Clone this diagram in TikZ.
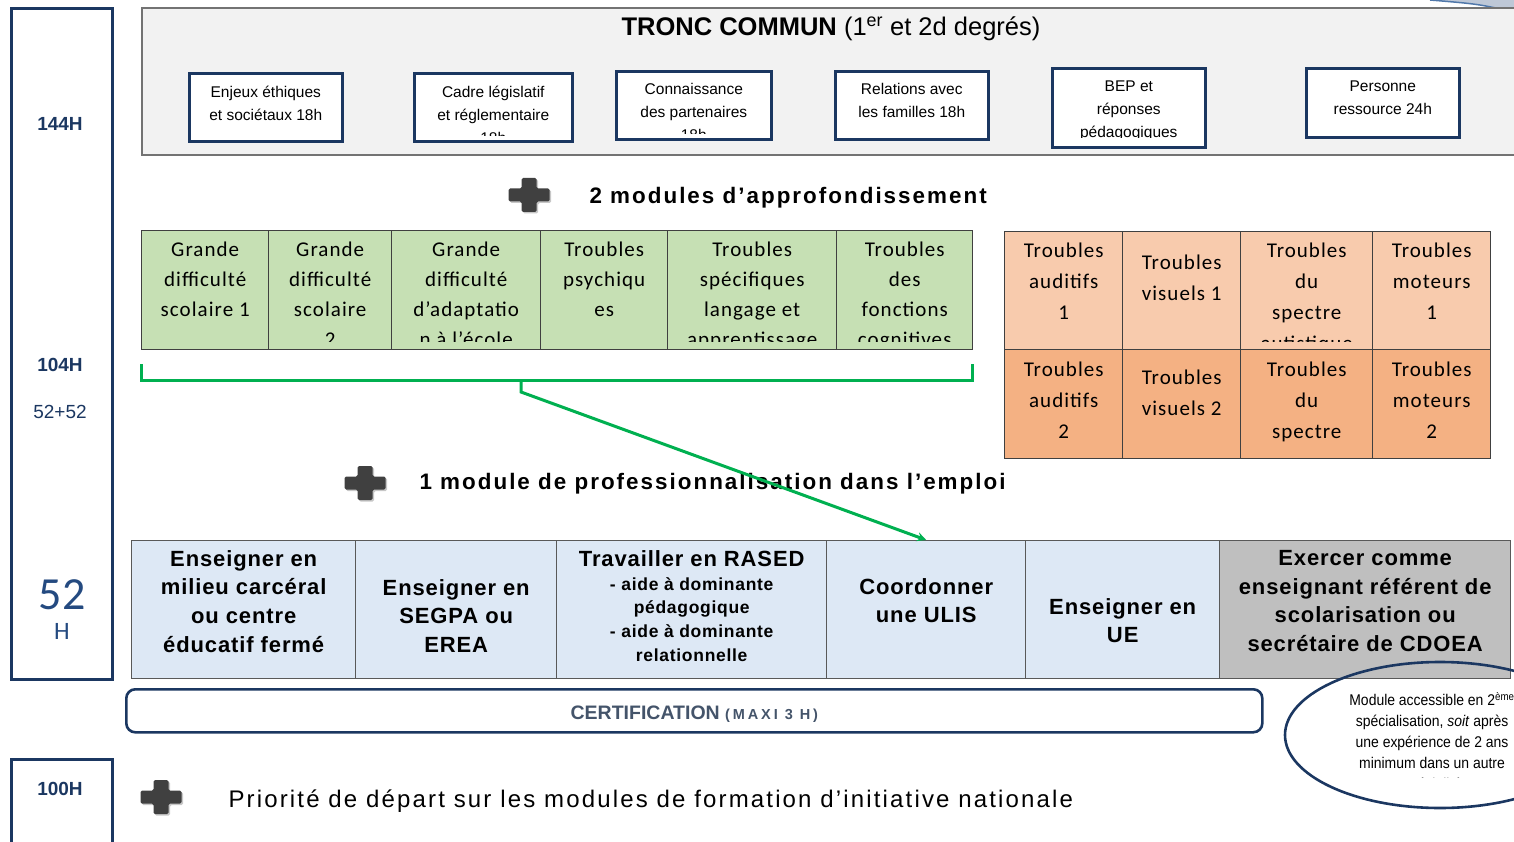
\documentclass[tikz,border=0pt]{standalone}
\usepackage{fontspec}
\setmainfont{Liberation Sans}
\newfontfamily\calibfont[LetterSpace=5]{Carlito}
\newfontfamily\calibplain{Carlito}
\newfontfamily\narrowfont[FakeStretch=0.9]{Liberation Sans}
\newfontfamily\widefont[LetterSpace=4]{Liberation Sans}
\newfontfamily\spacedfont[LetterSpace=9]{Liberation Sans}
\newfontfamily\capsfont[LetterSpace=20]{Liberation Sans}
\usepackage{tikz}
\usetikzlibrary{arrows,positioning,shapes.geometric}
\usetikzlibrary{calc}

\definecolor{navy}{RGB}{27,55,97}
\definecolor{steel}{RGB}{36,74,128}
\definecolor{troncgrey}{RGB}{242,242,242}
\definecolor{vert}{RGB}{198,224,180}
\definecolor{orangeA}{RGB}{248,203,173}
\definecolor{orangeB}{RGB}{244,177,131}
\definecolor{bleu}{RGB}{221,232,245}
\definecolor{gris}{RGB}{191,191,191}
\definecolor{plusgrey}{RGB}{64,64,64}
\definecolor{arrowgreen}{RGB}{0,176,80}
\definecolor{certif}{RGB}{68,84,106}
\definecolor{cornerfill}{RGB}{190,200,215}
\definecolor{cornerline}{RGB}{80,120,170}

\begin{document}
\begin{tikzpicture}[x=1pt, y=-1pt, >=stealth,
	hours/.style={draw=navy, line width=3pt, minimum width=101pt, anchor=north west},
	hourtext/.style={text=navy, font=\fontsize{19}{22}\selectfont\bfseries},
	tcbox/.style={draw=navy, line width=2.6pt, fill=white, anchor=north west},
	tctext/.style={align=center, inner sep=0pt, font=\fontsize{15.5}{23}\selectfont},
	cell/.style={draw=black!75, line width=1.4pt, anchor=north west},
	approtext/.style={align=center, inner sep=0pt, font=\calibfont\fontsize{21}{30}\selectfont},
	spectext/.style={align=center, inner sep=0pt, font=\calibfont\fontsize{21}{31}\selectfont},
	emploitext/.style={align=center, inner sep=0pt, font=\widefont\bfseries\fontsize{22}{28.7}\selectfont},
	rasedtext/.style={align=center, inner sep=0pt, font=\widefont\bfseries\fontsize{17.5}{23.7}\selectfont},
	modtitle/.style={anchor=west, font=\spacedfont\bfseries\fontsize{22.4}{26}\selectfont},
	plus/.style={fill=plusgrey, rounded corners=1.5pt},
	plusshadow/.style={fill=black!22, rounded corners=1.5pt},
	bracket/.style={draw=arrowgreen, line width=3pt}]

\clip (0,0) rectangle (1514,842);

\fill[cornerfill] (1430,0) -- (1514,0) -- (1514,12) .. controls (1478,4) .. (1430,0);
\draw[cornerline, line width=1.5pt] (1430,0) .. controls (1478,4) .. (1514,12);

\node[hours, minimum height=671pt] (hours) at (10,7) {};
\node[hourtext] (h-144) at (60,124) {144H};
\node[hourtext] (h-104) at (60,365) {104H};
\node[text=navy, font=\fontsize{19}{22}\selectfont] (h-half) at (60,412) {52+52};
\node[inner sep=0pt, text=steel, font=\calibplain\fontsize{46}{50}\selectfont] (h-52) at (62,595) {52};
\node[inner sep=0pt, text=steel, font=\calibplain\fontsize{25}{28}\selectfont] (h-unit) at (62,631) {H};

\node[hours, minimum height=100pt] (hours-fin) at (10,758) {};
\node[hourtext] (h-100) at (60,789) {100H};

\node[draw=black!55, line width=1.6pt, fill=troncgrey, minimum width=1400pt, minimum height=147pt, anchor=north west] (tronc) at (141,7) {};
\node[font=\fontsize{25.5}{28}\selectfont] (tronc-title) at (831,29) {\textbf{TRONC COMMUN} (1\textsuperscript{er} et 2d degrés)};

\foreach \xa/\xb/\ya/\yb/\cb/\txt [count=\i] in {
	188/341/72/140/7/{Enjeux éthiques\\et sociétaux 18h},
	413/571/72/140/7/{Cadre législatif\\et réglementaire\\18h},
	615/770/70/138/7/{Connaissance\\des partenaires\\18h},
	834/987/70/138/7/{Relations avec\\les familles 18h},
	1051/1204/67/146/11/{BEP et\\réponses\\pédagogiques},
	1305/1458/67/136/7/{Personne\\ressource 24h}}
{
	\node[tcbox, minimum width={(\xb-\xa)*1pt}, minimum height={(\yb-\ya)*1pt}] (tc-\i) at (\xa,\ya) {};
	\begin{scope}
		\clip ([shift={(2pt,-2pt)}]tc-\i.north west) rectangle ([shift={(-2pt,\cb pt)}]tc-\i.south east);
		\node[tctext, anchor=north] (tc-\i-txt) at ([yshift=-13.5pt]tc-\i.north) {\txt};
	\end{scope}
}

\foreach \cx/\cy in {529/195, 365/483, 161/797}
{
	\fill[plusshadow] (\cx+1.5,\cy+1.5) ++(-20.5,-6.5) -- ++(13,0) -- ++(0,-10.5) -- ++(15,0) -- ++(0,10.5) -- ++(13,0) -- ++(0,13) -- ++(-13,0) -- ++(0,10.5) -- ++(-15,0) -- ++(0,-10.5) -- ++(-13,0) -- cycle;
	\fill[plus] (\cx,\cy) ++(-20.5,-6.5) -- ++(13,0) -- ++(0,-10.5) -- ++(15,0) -- ++(0,10.5) -- ++(13,0) -- ++(0,13) -- ++(-13,0) -- ++(0,10.5) -- ++(-15,0) -- ++(0,-10.5) -- ++(-13,0) -- cycle;
}

\node[modtitle] (appro-title) at (586,198) {2 modules d’approfondissement};

\foreach \xa/\xb/\txt [count=\i] in {
	141/268/{Grande\\difficulté\\scolaire 1},
	268/391/{Grande\\difficulté\\scolaire\\2},
	391/540/{Grande\\difficulté\\d’adaptatio\\n à l’école},
	540/667/{Troubles\\psychiqu\\es},
	667/836/{Troubles\\spécifiques\\langage et\\apprentissage},
	836/972/{Troubles\\des\\fonctions\\cognitives}}
{
	\node[cell, fill=vert, minimum width={(\xb-\xa)*1pt}, minimum height=119pt] (appro-\i) at (\xa,230) {};
	\begin{scope}
		\clip ([shift={(1pt,-1pt)}]appro-\i.north west) rectangle ([shift={(-1pt,9pt)}]appro-\i.south east);
		\node[approtext, anchor=north] (appro-\i-txt) at ([yshift=-12pt]appro-\i.north) {\txt};
	\end{scope}
}

\foreach \xa/\xb/\ya/\yb/\fc/\dy/\txt [count=\i] in {
	1004/1122/231/349/orangeA/12/{Troubles\\auditifs\\1},
	1122/1240/231/349/orangeA/24/{Troubles\\visuels 1},
	1240/1372/231/349/orangeA/12/{Troubles\\du\\spectre\\autistique},
	1372/1490/231/349/orangeA/12/{Troubles\\moteurs\\1},
	1004/1122/349/458/orangeB/13/{Troubles\\auditifs\\2},
	1122/1240/349/458/orangeB/21/{Troubles\\visuels 2},
	1240/1372/349/458/orangeB/13/{Troubles\\du\\spectre},
	1372/1490/349/458/orangeB/13/{Troubles\\moteurs\\2}}
{
	\node[cell, fill=\fc, minimum width={(\xb-\xa)*1pt}, minimum height={(\yb-\ya)*1pt}] (spec-\i) at (\xa,\ya) {};
	\begin{scope}
		\clip ([shift={(1pt,-1pt)}]spec-\i.north west) rectangle ([shift={(-1pt,9pt)}]spec-\i.south east);
		\node[spectext, anchor=north] (spec-\i-txt) at ([yshift=-\dy pt]spec-\i.north) {\txt};
	\end{scope}
}

\coordinate (br-l) at (141,364);
\coordinate (br-r) at (972,364);
\coordinate (br-m) at (521,380);
\draw[bracket] (br-l) -- ++(0,16) -| (br-r);

\node[modtitle] (pro-title) at (416,484) {1 module de professionnalisation dans l’emploi};

\foreach \xa/\xb/\dy/\fc/\txt [count=\i] in {
	131/355/10/bleu/{Enseigner en\\milieu carcéral\\ou centre\\éducatif fermé},
	355/556/39/bleu/{Enseigner en\\SEGPA ou\\EREA},
	556/826/10/bleu/{Travailler en RASED},
	826/1025/38/bleu/{Coordonner\\une ULIS},
	1025/1219/58/bleu/{Enseigner en\\UE},
	1219/1510/10/gris/{Exercer comme\\enseignant référent de\\scolarisation ou\\secrétaire de CDOEA}}
{
	\node[cell, draw=black!65, fill=\fc, minimum width={(\xb-\xa)*1pt}, minimum height=138pt] (emploi-\i) at (\xa,540) {};
	\node[emploitext, anchor=north] (emploi-\i-txt) at ([yshift=-\dy pt]emploi-\i.north) {\txt};
}
\node[rasedtext, anchor=north] (emploi-3-sub) at ([yshift=-37pt]emploi-3.north) {- aide à dominante\\pédagogique\\- aide à dominante\\relationnelle};

\draw[bracket, ->] (br-m) -- ++(0,12) -- (emploi-4.north);

\node[draw=navy, line width=2.6pt, rounded corners=9pt, minimum width=1136pt, minimum height=43pt, anchor=north west] (certif) at (125,688) {};
\node[text=certif] (certif-txt) at ([yshift=-3pt]certif.center) {\bfseries\fontsize{19.5}{22}\selectfont CERTIFICATION {\capsfont\fontsize{14.5}{15}\selectfont (MAXI 3 H)}};

\node[draw=navy, line width=2.6pt, ellipse, minimum width=310pt, minimum height=146pt] (note) at (1440,735) {};
\begin{scope}
	\clip (1290,680) rectangle (1514,777);
	\node[align=center, inner sep=0pt, anchor=north, font=\narrowfont\fontsize{15.5}{21}\selectfont] (note-txt) at (1432,692) {Module accessible en 2\textsuperscript{ème}\\spécialisation, \textit{soit} après\\une expérience de 2 ans\\minimum dans un autre\\spécialité};
\end{scope}

\node[anchor=west, font=\spacedfont\fontsize{24}{27}\selectfont] (fin-title) at (225,801) {Priorité de départ sur les modules de formation d’initiative nationale};

\end{tikzpicture}
\end{document}
